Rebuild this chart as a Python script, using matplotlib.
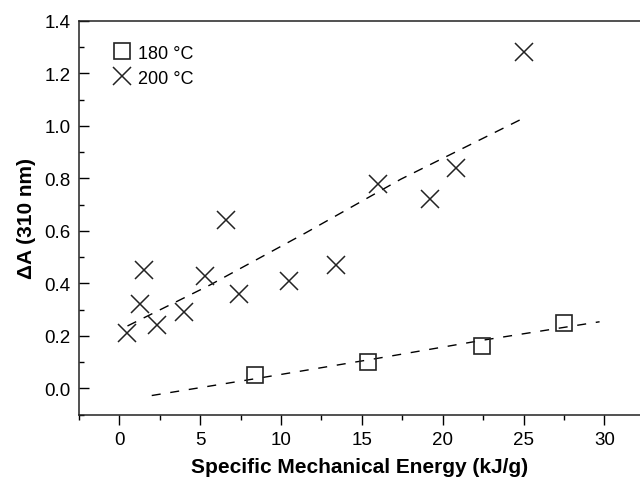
import numpy as np
import matplotlib
matplotlib.use("Agg")
import matplotlib.pyplot as plt
from matplotlib.ticker import MultipleLocator

plt.rcParams['font.family'] = ['Liberation Sans', 'DejaVu Sans']

# 180 °C samples (squares)
sme_180 = [8.4, 15.4, 22.4, 27.5]
da_180 = [0.05, 0.10, 0.16, 0.25]

# 200 °C samples (crosses)
sme_200 = [0.5, 1.5, 1.3, 2.3, 4.0, 5.3, 6.6, 7.4, 10.5, 13.4, 16.0, 19.2, 20.8, 25.0]
da_200 = [0.21, 0.45, 0.32, 0.24, 0.29, 0.43, 0.64, 0.36, 0.41, 0.47, 0.78, 0.72, 0.84, 1.28]

# dashed trend lines
fit_x_180 = [2.0, 8.5, 15.9, 22.5, 29.7]
fit_y_180 = [-0.027, 0.038, 0.114, 0.184, 0.254]
fit_x_200 = [0.5, 5.6, 11.5, 17.4, 25.0]
fit_y_200 = [0.238, 0.394, 0.592, 0.797, 1.03]

fig = plt.figure(figsize=(6.4, 4.81), dpi=100)
ax = fig.add_axes([0.1234, 0.1358, 0.8766, 0.8185])

ax.plot(fit_x_180, fit_y_180, color='black', lw=1.0, dashes=(6.5, 7))
ax.plot(fit_x_200, fit_y_200, color='black', lw=1.0, dashes=(7, 6))

ax.plot(sme_180, da_180, linestyle='none', marker='s', markersize=11.5,
        markerfacecolor='none', markeredgecolor='#222222', markeredgewidth=1.2,
        label='180 °C')
ax.plot(sme_200, da_200, linestyle='none', marker='x', markersize=13,
        color='#222222', markeredgewidth=1.1, label='200 °C')

ax.set_xlim(-2.5, 32.2)
ax.set_ylim(-0.1, 1.4)
ax.xaxis.set_major_locator(MultipleLocator(5))
ax.xaxis.set_minor_locator(MultipleLocator(2.5))
ax.yaxis.set_major_locator(MultipleLocator(0.2))
ax.yaxis.set_minor_locator(MultipleLocator(0.1))
ax.set_xticks([0, 5, 10, 15, 20, 25, 30])
ax.set_yticks([0.0, 0.2, 0.4, 0.6, 0.8, 1.0, 1.2, 1.4])
ax.set_yticklabels(['0.0', '0.2', '0.4', '0.6', '0.8', '1.0', '1.2', '1.4'])

ax.spines['right'].set_visible(False)
for s in ['left', 'bottom', 'top']:
    ax.spines[s].set_linewidth(1.1)
    ax.spines[s].set_color('#222222')

ax.tick_params(axis='y', direction='in', length=7.5, width=1, labelsize=13.5, pad=6)
ax.tick_params(axis='y', which='minor', direction='in', length=3.5, width=1)
ax.tick_params(axis='x', direction='out', length=7, width=1, labelsize=13.5, pad=5)
ax.tick_params(axis='x', which='minor', direction='out', length=3.5, width=1)

ax.set_xlabel('Specific Mechanical Energy (kJ/g)', fontsize=15, fontweight='bold', labelpad=6)
ax.set_ylabel('ΔA (310 nm)', fontsize=15, fontweight='bold', labelpad=6)

ax.legend(loc='upper left', frameon=False, fontsize=13, handletextpad=0.3,
          handlelength=1.2, borderaxespad=0.3, labelspacing=0.45,
          bbox_to_anchor=(0.035, 0.972))

fig.savefig('out.png', dpi=100)
